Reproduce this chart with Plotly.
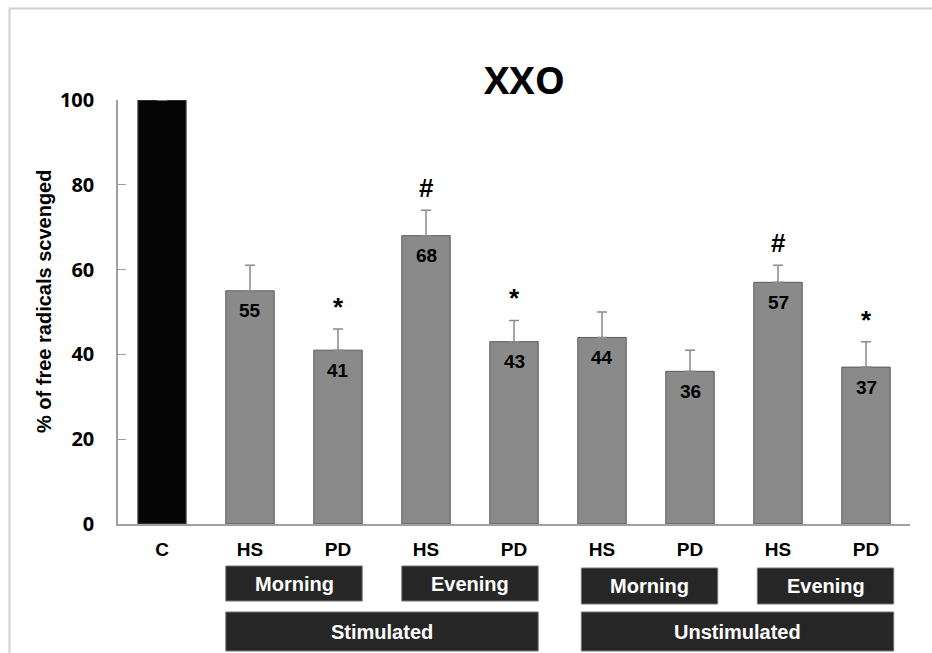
import plotly.graph_objects as go

categories = ["C", "HS", "PD", "HS", "PD", "HS", "PD", "HS", "PD"]
values = [100, 55, 41, 68, 43, 44, 36, 57, 37]
errors = [0, 6, 5, 6, 5, 6, 5, 4, 6]
marks = ["", "", "*", "#", "*", "", "", "#", "*"]
bar_colors = ["#050505"] + ["#8a8a8a"] * 8
value_labels = ["", "55", "41", "68", "43", "44", "36", "57", "37"]

time_groups = [("Morning", 1, 2), ("Evening", 3, 4), ("Morning", 5, 6), ("Evening", 7, 8)]
stim_groups = [("Stimulated", 1, 4), ("Unstimulated", 5, 8)]

xs = list(range(len(categories)))
bw = 0.55
FONT = "Liberation Sans, Arial"

fig = go.Figure()
fig.add_trace(go.Bar(
    x=xs, y=values, width=bw,
    marker=dict(color=bar_colors, line=dict(color="#5a5a5a", width=1)),
    error_y=dict(type="data", symmetric=False, array=errors,
                 arrayminus=[0] * len(errors), color="#8a8a8a", thickness=1.5, width=5),
    showlegend=False, hoverinfo="skip",
))

annotations = []
for i, (v, t) in enumerate(zip(values, value_labels)):
    if t:
        annotations.append(dict(x=i, y=v, xref="x", yref="y", text="<b>%s</b>" % t,
                                showarrow=False, yanchor="middle", yshift=-20,
                                font=dict(family=FONT, size=19, color="black")))
for i, (v, e, m) in enumerate(zip(values, errors, marks)):
    if m:
        annotations.append(dict(x=i, y=v + e, xref="x", yref="y", text="<b>%s</b>" % m,
                                showarrow=False, yanchor="bottom", yshift=5,
                                font=dict(family=FONT, size=26, color="black")))

shapes = []
BOX = "#262626"

def px_to_paper_y(py):
    return (524 - py) / 424.0

def px_to_paper_x(px):
    return (px - 118) / 792.0

for name, a, b in time_groups:
    top, bot = (566, 601) if a < 5 else (568, 604)
    off = 0 if a < 5 else 0.04
    shapes.append(dict(type="rect", xref="x", yref="paper", x0=a - bw / 2 + off, x1=b + bw / 2 + off,
                       y0=px_to_paper_y(bot), y1=px_to_paper_y(top),
                       fillcolor=BOX, line=dict(color="#777777", width=1)))
    annotations.append(dict(x=(a + b) / 2 + off, y=px_to_paper_y((top + bot) / 2), xref="x", yref="paper",
                            text="<b>%s</b>" % name, showarrow=False, yanchor="middle",
                            font=dict(family=FONT, size=20, color="white")))
for name, a, b in stim_groups:
    top, bot = 612, 651
    off = 0 if a < 5 else 0.04
    shapes.append(dict(type="rect", xref="x", yref="paper", x0=a - bw / 2 + off, x1=b + bw / 2 + off,
                       y0=px_to_paper_y(bot), y1=px_to_paper_y(top),
                       fillcolor=BOX, line=dict(color="#777777", width=1)))
    annotations.append(dict(x=(a + b) / 2 + off, y=px_to_paper_y((top + bot) / 2), xref="x", yref="paper",
                            text="<b>%s</b>" % name, showarrow=False, yanchor="middle",
                            font=dict(family=FONT, size=20, color="white")))

# outer frame lines (top and left)
shapes.append(dict(type="line", xref="paper", yref="paper", x0=px_to_paper_x(9), x1=px_to_paper_x(932),
                   y0=px_to_paper_y(8.5), y1=px_to_paper_y(8.5), line=dict(color="#d0d0d0", width=2)))
shapes.append(dict(type="line", xref="paper", yref="paper", x0=px_to_paper_x(9.5), x1=px_to_paper_x(9.5),
                   y0=px_to_paper_y(8.5), y1=px_to_paper_y(653), line=dict(color="#d0d0d0", width=2)))

annotations.append(dict(x=px_to_paper_x(524), y=px_to_paper_y(79), xref="paper", yref="paper",
                        text="<b>XXO</b>", showarrow=False, yanchor="middle",
                        font=dict(family="Open Sans", size=38, color="black")))
annotations.append(dict(x=px_to_paper_x(44), y=px_to_paper_y(302), xref="paper", yref="paper",
                        text="<b>% of free radicals scvenged</b>", showarrow=False, textangle=-90,
                        xanchor="center", yanchor="middle",
                        font=dict(family=FONT, size=20, color="black")))

fig.update_layout(
    width=932, height=653,
    margin=dict(l=118, r=22, t=100, b=129),
    paper_bgcolor="white", plot_bgcolor="white",
    xaxis=dict(range=[-0.5, 8.5], tickmode="array", tickvals=xs,
               ticktext=["<b>%s</b>" % c for c in categories],
               tickfont=dict(family=FONT, size=19, color="black"),
               showline=True, linecolor="#a0a0a0", linewidth=1.5, ticks="", showgrid=False,
               zeroline=False, ticklabelstandoff=7),
    yaxis=dict(range=[0, 100], tickvals=[0, 20, 40, 60, 80, 100],
               ticktext=["<b>%d</b>" % v for v in [0, 20, 40, 60, 80, 100]],
               tickfont=dict(family="Open Sans", size=20, color="black"),
               showline=True, linecolor="#a0a0a0", linewidth=1.5, ticks="inside", ticklen=8,
               tickcolor="#a0a0a0", showgrid=False, zeroline=False, ticklabelstandoff=18),
    shapes=shapes, annotations=annotations,
)

fig.write_html("out.html", config={"displayModeBar": False},
               post_script="document.body.style.margin='0';document.body.style.overflow='hidden';")
